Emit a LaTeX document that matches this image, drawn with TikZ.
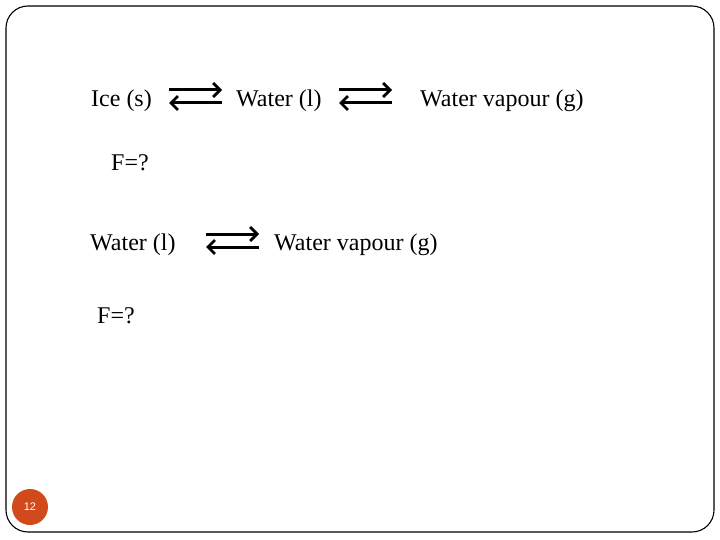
\documentclass[tikz,border=0pt]{standalone}
\usepackage{fontspec}
\setmainfont{Liberation Serif}
\newfontfamily\numfont{Liberation Sans}
\usetikzlibrary{arrows.meta}
\begin{document}
\begin{tikzpicture}[x=1pt,y=-1pt,
  lbl/.style={anchor=base west,inner sep=0pt,font=\fontsize{24}{28}\selectfont},
  eqarrow/.style={line width=3pt,-{Straight Barb[length=7pt,width=14pt,line width=2.8pt]}}]
\useasboundingbox (0,0) rectangle (720,540);
\draw[line width=1.1pt,rounded corners=22pt] (6,6) rectangle (714,532);
% row 1
\node[lbl] (ice) at (91,107) {Ice (s)};
\node[lbl] (w1) at (236,107) {Water (l)};
\node[lbl] (v1) at (420,107) {Water vapour (g)};
\node[lbl] (f1) at (111,171) {F=?};
% row 2
\node[lbl] (w2) at (90,250) {Water (l)};
\node[lbl] (v2) at (274,250) {Water vapour (g)};
\node[lbl] (f2) at (97,323) {F=?};
% equilibrium arrows
\coordinate (a1s) at (169,90); \coordinate (a1e) at (222,90);
\coordinate (b1s) at (222,103); \coordinate (b1e) at (169,103);
\coordinate (a2s) at (339,90); \coordinate (a2e) at (392,90);
\coordinate (b2s) at (392,103); \coordinate (b2e) at (339,103);
\coordinate (a3s) at (206,234); \coordinate (a3e) at (259,234);
\coordinate (b3s) at (259,247); \coordinate (b3e) at (206,247);
\draw[eqarrow] (a1s) -- (a1e);
\draw[eqarrow] (b1s) -- (b1e);
\draw[eqarrow] (a2s) -- (a2e);
\draw[eqarrow] (b2s) -- (b2e);
\draw[eqarrow] (a3s) -- (a3e);
\draw[eqarrow] (b3s) -- (b3e);
% page number
\node[circle,fill={rgb,255:red,208;green,74;blue,28},minimum size=36pt,inner sep=0pt,
  text=white,font=\numfont\fontsize{11}{13}\selectfont] (pg) at (30,507) {12};
\end{tikzpicture}
\end{document}
